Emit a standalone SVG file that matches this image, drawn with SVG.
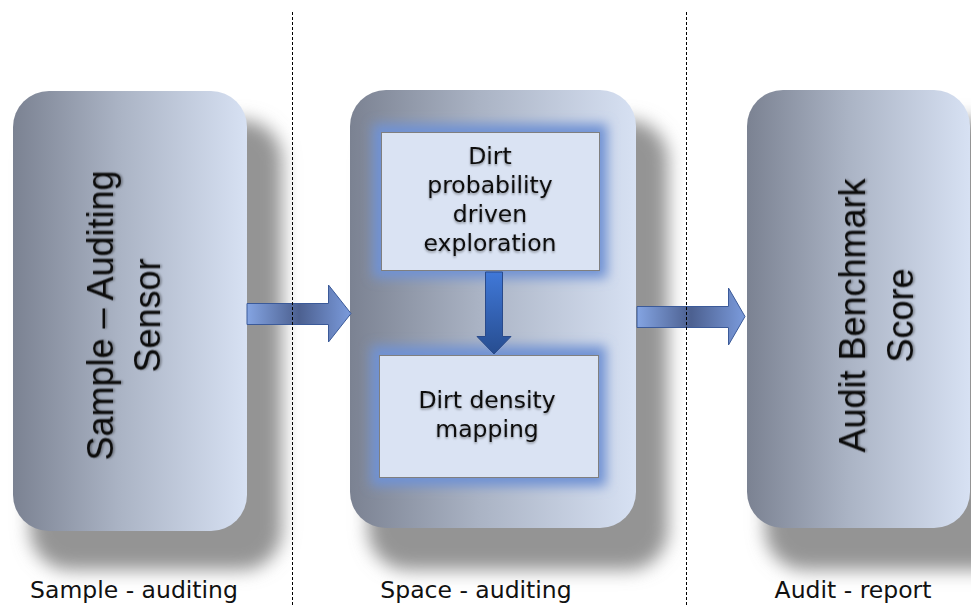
<svg xmlns="http://www.w3.org/2000/svg" width="971" height="606" viewBox="0 0 971 606">
  <defs>
    <style>
      .panel { fill: url(#panelFill); }
      .panel-shadow { fill: #949494; filter: url(#softShadow); }
      .inner { fill: #dae3f3; stroke: #7f7f7f; stroke-width: 1; }
      .inner-glow { fill: #6f92d4; filter: url(#glow); }
      .big { font-family: "Liberation Sans", Arial, sans-serif; font-size: 36px; fill: #111; text-anchor: middle; filter: url(#textShadow); }
      .small { font-family: "DejaVu Sans", Verdana, sans-serif; font-size: 23.5px; fill: #111; text-anchor: middle; filter: url(#textShadow); }
      .caption { font-family: "DejaVu Sans", Verdana, sans-serif; font-size: 23.5px; fill: #111; text-anchor: middle; }
      .flow { fill: url(#flowFill); stroke: #3b5a99; stroke-width: 1; }
      .drop { fill: url(#dropFill); stroke: #2a4a8a; stroke-width: 1; }
      .divider { stroke: #000; stroke-width: 1; stroke-dasharray: 3 2; fill: none; }
    </style>
    <linearGradient id="panelFill" x1="0" y1="0" x2="1" y2="0">
      <stop offset="0" stop-color="#7b8292"/>
      <stop offset="0.45" stop-color="#aab3c4"/>
      <stop offset="1" stop-color="#d7e1f3"/>
    </linearGradient>
    <linearGradient id="flowFill" x1="0" y1="0" x2="1" y2="0">
      <stop offset="0" stop-color="#84a4e2"/>
      <stop offset="0.5" stop-color="#4c6090"/>
      <stop offset="1" stop-color="#7b9bdc"/>
    </linearGradient>
    <linearGradient id="dropFill" x1="0" y1="0" x2="0" y2="1">
      <stop offset="0" stop-color="#4078d8"/>
      <stop offset="1" stop-color="#274d90"/>
    </linearGradient>
    <filter id="softShadow" x="-20%" y="-20%" width="140%" height="140%">
      <feGaussianBlur stdDeviation="9"/>
    </filter>
    <filter id="glow" x="-20%" y="-30%" width="140%" height="160%">
      <feGaussianBlur stdDeviation="6"/>
    </filter>
    <filter id="textShadow" x="-10%" y="-30%" width="120%" height="160%">
      <feDropShadow dx="0" dy="1.5" stdDeviation="1" flood-color="#000" flood-opacity="0.4"/>
    </filter>
  </defs>

  <rect width="971" height="606" fill="#ffffff"/>

  <!-- soft panel shadows, cast down and to the right -->
  <rect class="panel-shadow" x="30" y="120" width="252" height="450" rx="40"/>
  <rect class="panel-shadow" x="368" y="120" width="300" height="450" rx="40"/>
  <rect class="panel-shadow" x="765" y="120" width="260" height="450" rx="40"/>

  <g id="sample-auditing-sensor">
    <rect class="panel" x="13" y="91" width="234" height="440" rx="36"/>
    <text class="big" transform="translate(113,315.5) rotate(-90)">Sample – Auditing</text>
    <text class="big" transform="translate(160,315.5) rotate(-90)">Sensor</text>
  </g>

  <g id="space-auditing">
    <rect class="panel" x="350" y="90" width="286" height="438" rx="36"/>
    <rect class="inner-glow" x="373" y="124" width="234" height="154"/>
    <rect class="inner-glow" x="371" y="346" width="235" height="140"/>
  </g>

  <g id="dirt-probability-exploration">
    <rect class="inner" x="381.5" y="132.5" width="218" height="138"/>
    <text class="small" x="490" y="164">Dirt</text>
    <text class="small" x="490" y="193">probability</text>
    <text class="small" x="490" y="222">driven</text>
    <text class="small" x="490" y="251">exploration</text>
  </g>

  <g id="dirt-density-mapping">
    <rect class="inner" x="379.5" y="355.5" width="219" height="122"/>
    <text class="small" x="487" y="408">Dirt density</text>
    <text class="small" x="487" y="437">mapping</text>
  </g>

  <g id="audit-benchmark-score">
    <rect class="panel" x="747" y="90" width="223" height="438" rx="36"/>
    <text class="big" transform="translate(865,315.5) rotate(-90)">Audit Benchmark</text>
    <text class="big" transform="translate(913,315.5) rotate(-90)">Score</text>
  </g>

  <g id="connectors">
    <path class="flow" d="M247,303.5 H328.5 V285 L351,313.5 L328.5,342 V324.5 H247 Z"/>
    <path class="flow" d="M637,306.5 H728.5 V288 L745,316.5 L728.5,345 V327.5 H637 Z"/>
    <path class="drop" d="M485.5,272 H502.5 V336.5 H511 L494,354 L477,336.5 H485.5 Z"/>
  </g>

  <g id="dividers">
    <line class="divider" x1="292.5" y1="12" x2="292.5" y2="606"/>
    <line class="divider" x1="686.5" y1="12" x2="686.5" y2="606"/>
  </g>

  <g id="captions">
    <text class="caption" x="134" y="598">Sample - auditing</text>
    <text class="caption" x="476" y="598">Space - auditing</text>
    <text class="caption" x="853" y="598">Audit - report</text>
  </g>
</svg>
